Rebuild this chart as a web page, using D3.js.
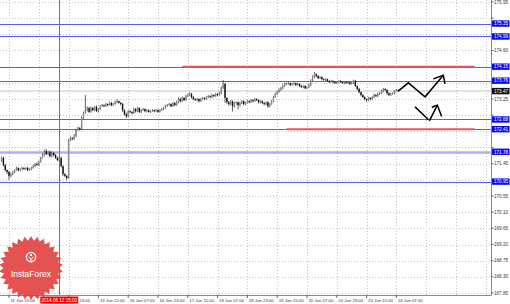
<!DOCTYPE html>
<html><head><meta charset="utf-8">
<script src="https://cdn.jsdelivr.net/npm/d3@7"></script>
<style>
html,body{margin:0;padding:0;background:#fff;}
svg{display:block;font-family:"Liberation Sans",Arial,sans-serif;}
</style></head><body>
<svg id="chart" width="510" height="304"></svg>
<script>
const width = 510, height = 304;
const plot = {left: 0, right: 491, top: 0, bottom: 295};

// hourly bars, prices in yen, wicks in pips beyond the body
const firstOpen = 171.55;
const closes = [
  171.61, 171.41, 171.27, 171.22, 171.11, 171.16, 171.22, 171.27, 171.33, 171.27,
  171.30, 171.33, 171.30, 171.33, 171.27, 171.30, 171.33, 171.38, 171.44, 171.41,
  171.50, 171.61, 171.69, 171.80, 171.72, 171.77, 171.66, 171.75, 171.69, 171.61,
  171.55, 171.61, 171.38, 171.16, 171.11, 171.05, 172.11, 172.16, 172.14, 172.22,
  172.39, 172.44, 172.41, 172.72, 172.86, 172.94, 173.00, 172.89, 173.00, 172.94,
  173.03, 172.91, 172.97, 173.05, 173.08, 173.05, 173.11, 173.08, 173.14, 173.08,
  173.11, 173.16, 173.19, 173.14, 173.11, 172.94, 172.83, 172.77, 172.91, 172.89,
  172.86, 172.97, 172.91, 173.00, 172.89, 172.94, 172.97, 172.91, 172.94, 172.89,
  172.91, 172.94, 172.91, 172.94, 172.89, 172.94, 172.97, 173.00, 173.05, 173.08,
  173.11, 173.05, 173.14, 173.08, 173.16, 173.25, 173.19, 173.28, 173.22, 173.33,
  173.36, 173.39, 173.30, 173.25, 173.22, 173.25, 173.19, 173.25, 173.28, 173.25,
  173.30, 173.33, 173.30, 173.36, 173.33, 173.39, 173.36, 173.41, 173.55, 173.67,
  173.28, 173.16, 173.11, 173.19, 173.05, 173.14, 173.16, 173.08, 173.14, 173.19,
  173.11, 173.14, 173.19, 173.16, 173.22, 173.19, 173.25, 173.22, 173.16, 173.19,
  173.14, 173.11, 173.16, 173.05, 173.11, 173.19, 173.30, 173.39, 173.44, 173.50,
  173.55, 173.61, 173.67, 173.67, 173.69, 173.64, 173.67, 173.69, 173.64, 173.67,
  173.61, 173.58, 173.61, 173.55, 173.58, 173.64, 173.75, 173.86, 173.94, 173.89,
  173.83, 173.86, 173.80, 173.78, 173.80, 173.75, 173.72, 173.75, 173.72, 173.69,
  173.72, 173.75, 173.72, 173.69, 173.72, 173.69, 173.72, 173.67, 173.69, 173.75,
  173.61, 173.53, 173.44, 173.36, 173.30, 173.25, 173.22, 173.28, 173.25, 173.30,
  173.36, 173.33, 173.39, 173.41, 173.47, 173.53, 173.50, 173.41, 173.36, 173.39,
  173.41, 173.47, 173.50, 173.47
];
const wickUp = [
  4, 3, 3, 2, 3, 4, 3, 2, 3, 2,  2, 3, 2, 2, 3, 2, 3, 4, 3, 5,
  4, 3, 5, 4, 6, 3, 5, 4, 3, 3,  4, 3, 4, 2, 3, 2, 3, 4, 3, 5,
  3, 4, 3, 5, 4, 42, 5, 3, 4, 3, 3, 4, 2, 3, 3, 2, 3, 2, 4, 3,
  3, 4, 5, 2, 3, 3, 2, 4, 3, 3,  2, 4, 3, 3, 2, 3, 3, 2, 3, 2,
  2, 3, 2, 3, 2, 3, 3, 3, 4, 3,  3, 2, 3, 2, 4, 4, 3, 4, 3, 4,
  4, 5, 3, 3, 2, 3, 2, 3, 3, 2,  3, 3, 2, 3, 2, 3, 2, 4, 5, 11,
  3, 2, 3, 3, 2, 3, 2, 2, 3, 3,  2, 3, 3, 2, 3, 2, 3, 2, 2, 3,
  2, 2, 3, 2, 3, 3, 4, 4, 4, 5,  4, 5, 4, 3, 4, 2, 3, 3, 2, 3,
  2, 3, 2, 3, 2, 4, 5, 5, 6, 3,  3, 3, 2, 3, 3, 2, 2, 3, 2, 2,
  3, 2, 2, 3, 2, 2, 3, 2, 3, 4,  3, 2, 3, 2, 2, 3, 2, 3, 2, 3,
  4, 3, 4, 3, 4, 3, 2, 2, 3, 3,  3, 3, 3, 2
];
const wickDn = [
  5, 4, 4, 6, 12, 4, 3, 3, 2, 4, 3, 3, 2, 3, 3, 2, 3, 2, 3, 2,
  3, 2, 2, 4, 3, 4, 5, 3, 4, 3,  3, 4, 4, 5, 4, 6, 2, 3, 4, 3,
  3, 2, 4, 3, 3, 2, 4, 3, 2, 3,  3, 2, 4, 3, 2, 3, 2, 3, 2, 3,
  2, 2, 3, 2, 4, 5, 4, 5, 3, 4,  4, 3, 4, 2, 3, 3, 2, 3, 3, 2,
  3, 2, 3, 2, 3, 2, 2, 3, 2, 2,  2, 3, 2, 3, 2, 3, 4, 2, 3, 2,
  2, 3, 4, 3, 2, 3, 4, 2, 2, 3,  2, 3, 2, 3, 2, 2, 3, 2, 3, 2,
  14, 4, 5, 3, 15, 4, 5, 12, 4, 3, 4, 3, 2, 3, 2, 3, 2, 3, 4, 3,
  3, 4, 3, 5, 3, 2, 3, 2, 3, 2,  2, 3, 2, 3, 2, 3, 2, 3, 3, 2,
  3, 2, 3, 3, 2, 2, 3, 2, 3, 4,  3, 2, 3, 2, 3, 2, 3, 2, 3, 2,
  2, 3, 2, 2, 3, 2, 2, 3, 2, 3,  3, 4, 3, 4, 3, 4, 5, 3, 4, 3,
  3, 2, 3, 3, 2, 3, 3, 4, 3, 2,  2, 3, 2, 3
];

const priceTicks = [175.95, 175.50, 175.05, 174.60, 174.15, 173.70, 173.25, 172.80, 172.35,
  171.90, 171.45, 171.00, 170.55, 170.10, 169.65, 169.20, 168.75, 168.30, 167.85];
const timeLabels = ["11 Jun 15:00", "12 Jun 07:00", "12 Jun 23:00", "13 Jun 15:00", "16 Jun 07:00",
  "16 Jun 23:00", "17 Jun 15:00", "18 Jun 07:00", "18 Jun 23:00", "19 Jun 15:00", "20 Jun 07:00",
  "20 Jun 23:00", "23 Jun 15:00", "24 Jun 07:00"];
const barsPerLabel = 16;
const firstLabelBar = 4;
const gridCount = 17;

const blueLevels = [175.35, 174.99, 174.15, 173.76, 172.68, 172.41, 171.78, 170.95];
const thickLevel = 171.78;
const currentPrice = 173.47;
const redPrices = [174.15, 172.41];
const redFrom = [97, 153];
const redTo = 254;
const markerBar = 31;
const markerLabel = "2014.06.12 15:00";

const forecastUp = [[213.0, 173.47], [218.4, 173.70], [227.4, 173.31], [237.2, 173.91]];
const forecastUpHead = [[231.8, 173.81], [237.2, 173.91], [238.1, 173.67]];
const forecastDn1 = [[222.0, 173.03], [229.1, 172.68]];
const forecastDn2 = [[229.7, 172.64], [234.0, 173.08]];
const forecastDnHead = [[231.0, 173.02], [234.0, 173.08], [236.3, 172.76]];

const svg = d3.select("#chart");

const x = d3.scaleLinear().domain([0, 262.8]).range([1.55, plot.right]);
const y = d3.scaleLinear().domain([167.85, 175.95]).range([293, 2]);

// grid
const gridBars = d3.range(gridCount).map(k => firstLabelBar + k * barsPerLabel);
svg.append("g").selectAll("line").data(priceTicks).join("line")
  .attr("x1", 0).attr("x2", plot.right)
  .attr("y1", d => Math.round(y(d)) + 0.5).attr("y2", d => Math.round(y(d)) + 0.5)
  .attr("stroke", "#c6c6c6").attr("stroke-dasharray", "1,2");
svg.append("g").selectAll("line").data(gridBars.filter(b => x(b) < plot.right)).join("line")
  .attr("x1", d => Math.round(x(d)) + 0.5).attr("x2", d => Math.round(x(d)) + 0.5)
  .attr("y1", 0).attr("y2", plot.bottom)
  .attr("stroke", "#c6c6c6").attr("stroke-dasharray", "1,2");

// levels
svg.append("line")
  .attr("x1", 0).attr("x2", plot.right)
  .attr("y1", y(currentPrice)).attr("y2", y(currentPrice))
  .attr("stroke", "#c4c4c4").attr("stroke-width", 1);
svg.append("g").selectAll("line").data(blueLevels).join("line")
  .attr("x1", 0).attr("x2", plot.right)
  .attr("y1", d => Math.round(y(d)) + 0.5).attr("y2", d => Math.round(y(d)) + 0.5)
  .attr("stroke", d => d === thickLevel ? "#aeaeff" : "#5a5af2")
  .attr("stroke-width", d => d === thickLevel ? 2.5 : 1);
svg.append("g").selectAll("line").data(redPrices).join("line")
  .attr("x1", (d, i) => x(redFrom[i])).attr("x2", x(redTo))
  .attr("y1", d => y(d)).attr("y2", d => y(d))
  .attr("stroke", "#e8555a").attr("stroke-width", 2);

// marker
svg.append("line")
  .attr("x1", Math.round(x(markerBar)) + 0.5).attr("x2", Math.round(x(markerBar)) + 0.5)
  .attr("y1", 0).attr("y2", plot.bottom)
  .attr("stroke", "#e04848").attr("stroke-width", 1);

// candles
const bars = closes.map((c, i) => {
  const o = i === 0 ? firstOpen : closes[i - 1];
  return {i, o, c, h: Math.max(o, c) + wickUp[i] / 100, l: Math.min(o, c) - wickDn[i] / 100};
});
const candle = svg.append("g").selectAll("g").data(bars).join("g");
candle.append("line")
  .attr("x1", d => x(d.i)).attr("x2", d => x(d.i))
  .attr("y1", d => y(d.h)).attr("y2", d => y(d.l))
  .attr("stroke", "#3a3a3a").attr("stroke-width", 0.8);
candle.append("rect")
  .attr("x", d => x(d.i) - 0.7).attr("width", 1.4)
  .attr("y", d => y(Math.max(d.o, d.c)))
  .attr("height", d => Math.max(0.8, Math.abs(y(d.o) - y(d.c))))
  .attr("fill", d => d.c >= d.o ? "#8c8c8c" : "#111");

// forecast arrows
const line = d3.line().x(d => x(d[0])).y(d => y(d[1]));
[forecastUp, forecastUpHead, forecastDn1, forecastDn2, forecastDnHead].forEach(p => {
  svg.append("path").attr("d", line(p))
    .attr("fill", "none").attr("stroke", "#000").attr("stroke-width", 1.5)
    .attr("stroke-linejoin", "miter");
});

// frame
svg.append("line").attr("x1", plot.right + 0.5).attr("x2", plot.right + 0.5)
  .attr("y1", 0).attr("y2", plot.bottom + 0.5).attr("stroke", "#8a8a8a");
svg.append("line").attr("x1", 0).attr("x2", plot.right + 0.5)
  .attr("y1", plot.bottom + 0.5).attr("y2", plot.bottom + 0.5).attr("stroke", "#8a8a8a");

// right axis: tick labels hidden where a level tag sits on top of them
const tagged = blueLevels.concat([currentPrice]);
const yAx = svg.append("g");
yAx.selectAll("line").data(priceTicks).join("line")
  .attr("x1", plot.right).attr("x2", plot.right + 2.5)
  .attr("y1", d => y(d)).attr("y2", d => y(d)).attr("stroke", "#666");
yAx.selectAll("text").data(priceTicks.filter(t => tagged.every(v => Math.abs(y(v) - y(t)) > 6.5))).join("text")
  .attr("x", plot.right + 3).attr("y", d => y(d) + 1.6)
  .attr("font-size", 4.6).attr("fill", "#333")
  .text(d => d.toFixed(2));

const tag = (v, fill) => {
  const g = svg.append("g").attr("transform", `translate(${plot.right + 1},${y(v)})`);
  g.append("rect").attr("x", 0).attr("y", -3.2).attr("width", 17.5).attr("height", 6.4).attr("fill", fill);
  g.append("text").attr("x", 2).attr("y", 1.7).attr("font-size", 4.6).attr("fill", "#fff").text(v.toFixed(2));
};
blueLevels.forEach(v => tag(v, "#0a0aee"));
tag(currentPrice, "#111");

// bottom axis: labels under the marker box are not shown, a partly hidden one keeps its visible time
const mx = x(markerBar);
const labelX = k => x(firstLabelBar + k * barsPerLabel);
const xAx = svg.append("g");
xAx.selectAll("line").data(timeLabels).join("line")
  .attr("x1", (d, k) => labelX(k)).attr("x2", (d, k) => labelX(k))
  .attr("y1", plot.bottom).attr("y2", plot.bottom + 3).attr("stroke", "#666");
xAx.selectAll("text").data(timeLabels.map((d, k) => ({d, k})).filter(o => Math.abs(labelX(o.k) - mx) > 22)).join("text")
  .attr("x", o => labelX(o.k) + 1.5).attr("y", 301.5)
  .attr("font-size", 4.3).attr("fill", "#333")
  .text(o => o.d);
xAx.append("text")
  .attr("x", mx + 20).attr("y", 301.5)
  .attr("font-size", 4.3).attr("fill", "#333").text(timeLabels[2].split(" ")[2]);
svg.append("rect").attr("x", mx - 19).attr("y", 296.5).attr("width", 38).attr("height", 7).attr("fill", "#f00");
svg.append("text").attr("x", mx).attr("y", 301.8).attr("text-anchor", "middle")
  .attr("font-size", 4.6).attr("fill", "#fff").text(markerLabel);

// logo
const cx = 31, cy = 268, spikes = 30;
const star = d3.range(spikes * 2).map(k => {
  const r = k % 2 ? 27.5 : 32;
  const a = Math.PI * k / spikes;
  return [cx + r * Math.sin(a), cy - r * Math.cos(a)];
});
const logo = svg.append("g").attr("opacity", 0.88);
logo.append("path").attr("d", d3.line()(star) + "Z").attr("fill", "#e23b3b");
logo.append("circle").attr("cx", cx).attr("cy", 257).attr("r", 4.6)
  .attr("fill", "none").attr("stroke", "#fff").attr("stroke-width", 1.3);
logo.append("circle").attr("cx", cx).attr("cy", 255).attr("r", 1.2).attr("fill", "#fff");
logo.append("path").attr("d", `M${cx - 2.2},256.8 L${cx},259.6 L${cx + 2.2},256.8 M${cx},259.6 L${cx},262.5`)
  .attr("stroke", "#fff").attr("stroke-width", 1).attr("fill", "none");
logo.append("text").attr("x", cx).attr("y", 276.5).attr("text-anchor", "middle")
  .attr("font-size", 8.5).attr("fill", "#fff").text("InstaForex");
</script>
</body></html>
